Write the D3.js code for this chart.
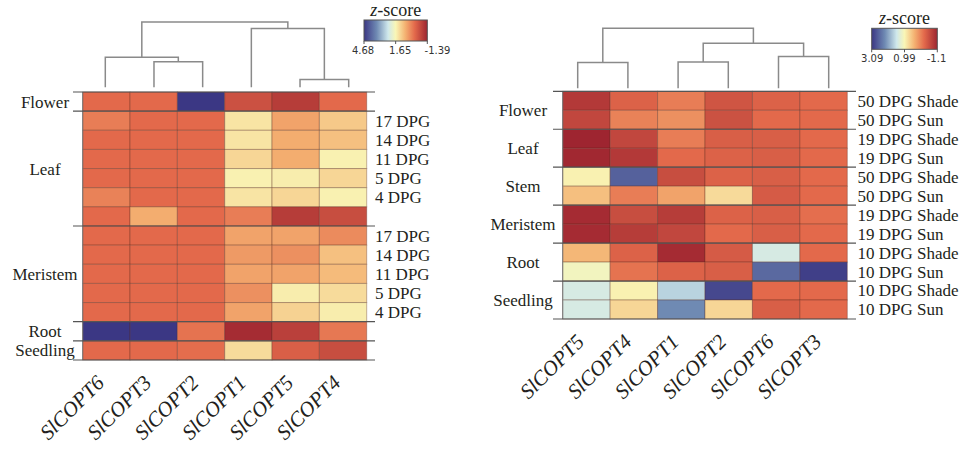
<!DOCTYPE html>
<meta charset="utf-8">
<style>
  body { margin: 0; background: #fff; }
  svg text { font-family: "Liberation Serif", "Times New Roman", serif; fill: #231f20; }
  .grplab, .rowlab { font-size: 17px; }
  .collab { font-size: 21px; font-style: italic; }
  .legtitle { font-size: 18px; }
  .leg .tick text { font-family: "DejaVu Sans", sans-serif; font-size: 10px; fill: #333; }
  .leg .tick line, .leg .domain { stroke: #555; }
  .sep { stroke: #555; stroke-width: 1.2; }
  .dendro { fill: none; stroke: #8a8a8a; stroke-width: 1.5; }
  .cell { stroke: rgba(90, 40, 30, 0.35); stroke-width: 1; }
</style>
<svg width="968" height="449"></svg>
<script src="https://d3js.org/d3.v7.min.js"></script>
<script>
// ---------- left panel ----------
var leftGenes = ["SlCOPT6", "SlCOPT3", "SlCOPT2", "SlCOPT1", "SlCOPT5", "SlCOPT4"];
var leftGroups = ["Flower", "Leaf", "Meristem", "Root", "Seedling"];
var leftGroupSizes = [1, 6, 5, 1, 1];
var leftRowLabels = ["", "17 DPG", "14 DPG", "11 DPG", "5 DPG", "4 DPG", "",
                     "17 DPG", "14 DPG", "11 DPG", "5 DPG", "4 DPG", "", ""];
var leftValues = [
  [-0.18, -0.18, 4.68, -0.60, -0.97, -0.18],
  [ 0.07, -0.18, -0.18, 1.40, 0.55, 1.04],
  [-0.18, -0.18, -0.18, 1.40, 0.67, 0.92],
  [-0.18, -0.18, -0.18, 1.22, 0.67, 1.58],
  [-0.18, -0.18, -0.18, 1.58, 1.52, 1.22],
  [ 0.13, -0.18, -0.18, 1.40, 1.22, 1.58],
  [-0.18, 0.67, -0.18, 0.07, -0.97, -0.66],
  [-0.18, -0.18, -0.18, 0.55, 0.55, 0.25],
  [-0.18, -0.18, -0.18, 0.43, 0.31, 0.92],
  [-0.18, -0.18, -0.18, 0.55, 0.55, 0.86],
  [-0.18, -0.18, -0.18, 0.31, 1.52, 1.28],
  [-0.18, -0.18, -0.18, 0.55, 1.16, 1.52],
  [ 4.68, 4.68, -0.05, -1.27, -0.90, 0.01],
  [-0.18, -0.18, -0.12, 1.28, -0.36, -0.66]
];
var leftLegendTicks = [4.68, 1.65, -1.39];
// cluster tree, h = relative merge height
var leftTree = {h: 1.0, c: [
  {h: 0.46, c: [{n: "SlCOPT6"}, {h: 0.39, c: [{n: "SlCOPT3"}, {n: "SlCOPT2"}]}]},
  {h: 0.90, c: [{n: "SlCOPT1"}, {h: 0.12, c: [{n: "SlCOPT5"}, {n: "SlCOPT4"}]}]}
]};

// ---------- right panel ----------
var rightGenes = ["SlCOPT5", "SlCOPT4", "SlCOPT1", "SlCOPT2", "SlCOPT6", "SlCOPT3"];
var rightGroups = ["Flower", "Leaf", "Stem", "Meristem", "Root", "Seedling"];
var rightGroupSizes = [2, 2, 2, 2, 2, 2];
var rightRowLabels = ["50 DPG Shade", "50 DPG Sun", "19 DPG Shade", "19 DPG Sun",
                      "50 DPG Shade", "50 DPG Sun", "19 DPG Shade", "19 DPG Sun",
                      "10 DPG Shade", "10 DPG Sun", "10 DPG Shade", "10 DPG Sun"];
var rightValues = [
  [-0.85, -0.35, -0.09, -0.51, -0.35, -0.26],
  [-0.68, -0.05, 0.07, -0.55, -0.26, -0.26],
  [-1.10, -0.68, -0.09, -0.39, -0.39, -0.26],
  [-1.06, -0.85, -0.26, -0.35, -0.39, -0.26],
  [ 0.95, 2.67, -0.60, -0.35, -0.39, -0.26],
  [ 0.49, -0.09, 0.24, 0.74, -0.43, -0.26],
  [-1.02, -0.60, -0.81, -0.35, -0.39, -0.22],
  [-1.02, -0.81, -0.68, -0.26, -0.39, -0.26],
  [ 0.41, -0.35, -1.02, -0.43, 1.41, -0.26],
  [ 1.08, -0.18, -0.35, -0.39, 2.59, 3.01],
  [ 1.41, 0.95, 1.67, 2.92, -0.26, -0.26],
  [ 1.41, 0.70, 2.25, 0.70, -0.39, -0.26]
];
var rightLegendTicks = [3.09, 0.99, -1.1];
var rightTree = {h: 1.0, c: [
  {h: 0.43, c: [{n: "SlCOPT5"}, {n: "SlCOPT4"}]},
  {h: 0.75, c: [
    {h: 0.44, c: [{n: "SlCOPT1"}, {n: "SlCOPT2"}]},
    {h: 0.53, c: [{n: "SlCOPT6"}, {n: "SlCOPT3"}]}
  ]}
]};

// colour ramp, blue (high end of legend) -> yellow -> red
var rampPos = [0, 0.2, 0.38, 0.5, 0.65, 0.8, 1];
var rampColors = ["#3b3784", "#6f8ab3", "#cfe8ec", "#f9f6b6", "#f4b272", "#e3694b", "#9e2530"];

var svg = d3.select("svg");

function drawPanel(cfg) {
  var g = svg.append("g");
  var t2v = d3.scaleLinear().domain([0, 1]).range([cfg.legendTicks[0], cfg.legendTicks[2]]);
  var color = d3.scaleLinear()
      .domain(rampPos.map(t2v))
      .range(rampColors)
      .interpolate(d3.interpolateRgb)
      .clamp(true);

  var nRows = cfg.values.length;
  var x = d3.scaleBand().domain(cfg.genes).range([cfg.x0, cfg.x1]);
  var y = d3.scaleBand().domain(d3.range(nRows)).range([cfg.y0, cfg.y1]);

  // cells
  cfg.values.forEach(function(row, i) {
    g.selectAll(null)
        .data(row)
        .enter().append("rect")
        .attr("class", "cell")
        .attr("x", function(d, j) { return x(cfg.genes[j]); })
        .attr("y", y(i))
        .attr("width", x.bandwidth())
        .attr("height", y.bandwidth())
        .attr("fill", function(d) { return color(d); });
  });

  g.append("line")
      .attr("x1", cfg.x0).attr("x2", cfg.x0)
      .attr("y1", cfg.y0).attr("y2", cfg.y1)
      .attr("stroke", "#777").attr("stroke-width", 1);

  // group separators and labels
  var starts = [0];
  cfg.groupSizes.forEach(function(s, i) { starts.push(starts[i] + s); });
  g.selectAll(".sep")
      .data(starts)
      .enter().append("line")
      .attr("class", "sep")
      .attr("x1", cfg.lineX0).attr("x2", cfg.lineX1)
      .attr("y1", function(d) { return d < nRows ? y(d) : cfg.y1; })
      .attr("y2", function(d) { return d < nRows ? y(d) : cfg.y1; });

  g.selectAll(".grplab")
      .data(cfg.groups)
      .enter().append("text")
      .attr("class", "grplab")
      .attr("text-anchor", "middle")
      .attr("x", cfg.groupX)
      .attr("y", function(d, i) {
        return y(starts[i]) + cfg.groupSizes[i] * y.bandwidth() / 2;
      })
      .attr("dy", "0.35em")
      .text(function(d) { return d; });

  g.selectAll(".rowlab")
      .data(cfg.rowLabels)
      .enter().append("text")
      .attr("class", "rowlab")
      .attr("x", cfg.rowLabelX)
      .attr("y", function(d, i) { return y(i) + y.bandwidth() / 2; })
      .attr("dy", "0.35em")
      .text(function(d) { return d; });

  // gene labels
  g.selectAll(".collab")
      .data(cfg.genes)
      .enter().append("text")
      .attr("class", "collab")
      .attr("text-anchor", "end")
      .attr("transform", function(d) {
        return "translate(" + (x(d) + x.bandwidth() / 2 - 1) + "," + (cfg.y1 + 24) + ") rotate(-45)";
      })
      .text(function(d) { return d; });

  // dendrogram
  var root = d3.hierarchy(cfg.tree, function(d) { return d.c; });
  var lx = d3.scalePoint().domain(cfg.genes).range(cfg.dendroX);
  var hy = d3.scaleLinear().domain([0, 1]).range(cfg.dendroY);
  root.eachAfter(function(d) {
    d.px = d.children ? d3.mean(d.children, function(c) { return c.px; }) : lx(d.data.n);
    d.py = hy(d.data.h || 0);
  });
  g.selectAll(".dendro")
      .data(root.descendants().filter(function(d) { return d.children; }))
      .enter().append("path")
      .attr("class", "dendro")
      .attr("d", function(d) {
        var a = d.children[0], b = d.children[1];
        return "M" + a.px + "," + a.py + "V" + d.py + "H" + b.px + "V" + b.py;
      });

  // legend
  var leg = g.append("g").attr("class", "leg");
  var gid = "grad" + cfg.id;
  var grad = svg.append("defs").append("linearGradient").attr("id", gid);
  grad.selectAll("stop")
      .data(rampPos)
      .enter().append("stop")
      .attr("offset", function(d) { return d * 100 + "%"; })
      .attr("stop-color", function(d, i) { return rampColors[i]; });
  var lg = cfg.legend;
  leg.append("rect")
      .attr("x", lg.x).attr("y", lg.y)
      .attr("width", lg.w).attr("height", lg.h)
      .attr("fill", "url(#" + gid + ")")
      .attr("stroke", "#555").attr("stroke-width", 1);
  var ls = d3.scaleLinear().domain([cfg.legendTicks[0], cfg.legendTicks[2]]).range(lg.labelRange);
  var ax = leg.append("g")
      .attr("transform", "translate(0," + (lg.y + lg.h) + ")")
      .call(d3.axisBottom(ls).tickValues(cfg.legendTicks).tickSize(3).tickSizeOuter(0)
        .tickFormat(function(d) { return String(d); }));
  ax.select(".domain").remove();
  ax.selectAll(".tick line").remove();
  var tl = d3.scaleLinear().domain([0, 1]).range([lg.x, lg.x + lg.w]);
  leg.selectAll(".lt")
      .data([0, 0.5, 1])
      .enter().append("line")
      .attr("x1", tl).attr("x2", tl)
      .attr("y1", lg.y + lg.h).attr("y2", lg.y + lg.h + 3)
      .attr("stroke", "#555");
  var title = leg.append("text")
      .attr("class", "legtitle")
      .attr("text-anchor", "middle")
      .attr("x", lg.x + lg.w / 2)
      .attr("y", lg.y - 4);
  title.append("tspan").style("font-style", "italic").text("z");
  title.append("tspan").text("-score");
}

drawPanel({
  id: "L", genes: leftGenes, groups: leftGroups, groupSizes: leftGroupSizes,
  rowLabels: leftRowLabels, values: leftValues, legendTicks: leftLegendTicks, tree: leftTree,
  x0: 82.7, x1: 366.7, y0: 92, y1: 360, lineX0: 73, lineX1: 375,
  groupX: 45, rowLabelX: 375,
  dendroX: [105.3, 348.7], dendroY: [87.3, 22],
  legend: {x: 364, y: 20, w: 63.3, h: 21, labelRange: [362.5, 437]}
});

drawPanel({
  id: "R", genes: rightGenes, groups: rightGroups, groupSizes: rightGroupSizes,
  rowLabels: rightRowLabels, values: rightValues, legendTicks: rightLegendTicks, tree: rightTree,
  x0: 562.7, x1: 847.3, y0: 91.3, y1: 319, lineX0: 553, lineX1: 856,
  groupX: 523, rowLabelX: 857.5,
  dendroX: [577.7, 828.7], dendroY: [88.3, 28.3],
  legend: {x: 871.7, y: 28.3, w: 65.6, h: 21, labelRange: [871.7, 936]}
});
</script>
